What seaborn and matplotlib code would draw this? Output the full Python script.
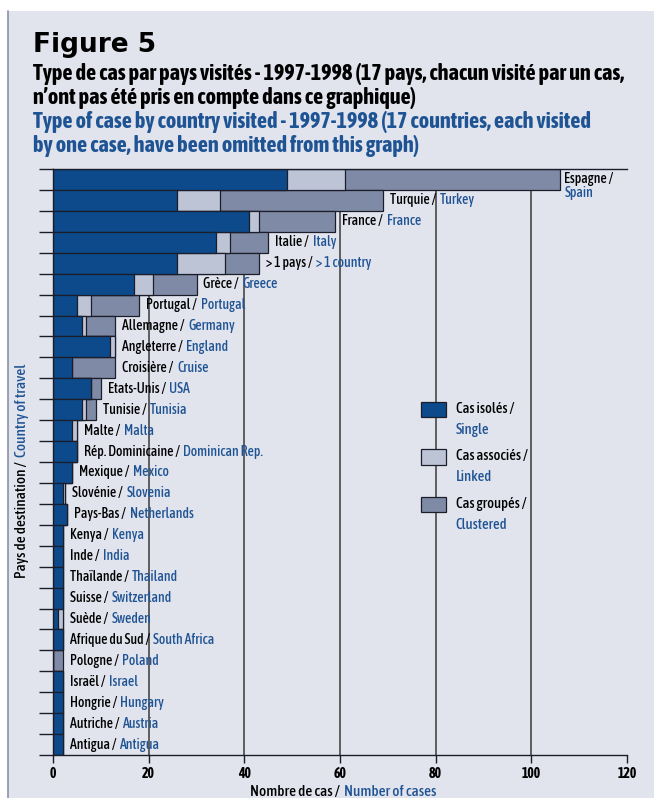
import numpy as np
import pandas as pd
import matplotlib.pyplot as plt
import seaborn as sns
from matplotlib.patches import Rectangle
from matplotlib.lines import Line2D
from matplotlib.offsetbox import (TextArea, HPacker, VPacker, DrawingArea,
                                  AnnotationBbox, AnchoredOffsetbox)

pays_fr = ['Espagne', 'Turquie', 'France', 'Italie', '> 1 pays', 'Grèce', 'Portugal',
           'Allemagne', 'Angleterre', 'Croisière', 'Etats-Unis', 'Tunisie', 'Malte',
           'Rép. Dominicaine', 'Mexique', 'Slovénie', 'Pays-Bas', 'Kenya', 'Inde',
           'Thaïlande', 'Suisse', 'Suède', 'Afrique du Sud', 'Pologne', 'Israël',
           'Hongrie', 'Autriche', 'Antigua']
pays_en = ['Spain', 'Turkey', 'France', 'Italy', '> 1 country', 'Greece', 'Portugal',
           'Germany', 'England', 'Cruise', 'USA', 'Tunisia', 'Malta',
           'Dominican Rep.', 'Mexico', 'Slovenia', 'Netherlands', 'Kenya', 'India',
           'Thailand', 'Switzerland', 'Sweden', 'South Africa', 'Poland', 'Israel',
           'Hungary', 'Austria', 'Antigua']
isoles = [49, 26, 41, 34, 26, 17, 5, 6, 12, 4, 8, 6, 4, 5, 4, 2, 3, 2, 2, 2, 2, 1, 2, 0, 2, 2, 2, 2]
associes = [12, 9, 2, 3, 10, 4, 3, 1, 1, 0, 0, 1, 1, 0, 0, 0.5, 0, 0, 0, 0, 0, 1, 0, 0, 0, 0, 0, 0]
groupes = [45, 34, 16, 8, 7, 9, 10, 6, 0, 9, 2, 2, 0, 0, 0, 0, 0, 0, 0, 0, 0, 0, 0, 2, 0, 0, 0, 0]

graduations = [0, 20, 40, 60, 80, 100, 120]

bleu_fonce = '#0d4a8b'
bleu_clair = '#bcc4d6'
bleu_gris = '#7f8ba6'
bleu_texte = '#1f5494'
fond = '#e1e3ed'
bord = '#1b1d2b'

sns.set_theme(style='white')
plt.rcParams['font.family'] = ['Asap Condensed', 'DejaVu Sans']
plt.rcParams['text.color'] = 'black'
plt.rcParams['xtick.color'] = 'black'
plt.rcParams['ytick.color'] = 'black'

df = pd.DataFrame({'pays': pays_fr, 'en': pays_en, 'isoles': isoles,
                   'associes': associes, 'groupes': groupes})
df['cumul'] = df['isoles'] + df['associes']
df['total'] = df['cumul'] + df['groupes']

fig = plt.figure(figsize=(6.54, 7.98), dpi=100)
fig.patch.set_facecolor('white')
fig.patches.append(Rectangle((8 / 654, 0), 1, 1 - 11 / 798, transform=fig.transFigure,
                             facecolor=fond, edgecolor='none', zorder=-10))
fig.add_artist(Line2D([8 / 654, 8 / 654], [0, 1 - 11 / 798], color='#8a92aa', lw=1.2))

ax = fig.add_axes([53 / 654, 1 - 755 / 798, 574 / 654, 586 / 798])
ax.patch.set_visible(False)

for v in graduations[1:-1]:
    ax.axvline(v, color='#3a3a3a', lw=1.1, zorder=0)

# barres empilées : total, puis isolés + associés, puis isolés
for col, couleur in [('total', bleu_gris), ('cumul', bleu_clair), ('isoles', bleu_fonce)]:
    sns.barplot(data=df, x=col, y='pays', orient='h', color=couleur, saturation=1,
                width=1, edgecolor=bord, linewidth=0.9, errorbar=None, ax=ax, zorder=2)

n = len(df)
ax.set_xlim(0, 120)
ax.set_ylim(n - 0.5, -0.5)
ax.set_xticks(graduations)
ax.set_yticks(np.arange(n + 1) - 0.5)
ax.set_yticklabels([])
ax.set_xlabel('')
ax.set_ylabel('')
ax.tick_params(axis='y', left=True, length=10, width=1, color=bord, direction='out')
ax.tick_params(axis='x', bottom=True, length=6, width=1, color=bord, direction='out',
               labelsize=10, pad=3)
for lab in ax.get_xticklabels():
    lab.set_fontweight('bold')
ax.spines['right'].set_visible(False)
for s in ['top', 'bottom', 'left']:
    ax.spines[s].set_color(bord)
    ax.spines[s].set_linewidth(1)

# étiquettes au bout des barres
for i, row in df.iterrows():
    fr = TextArea(row['pays'] + ' /', textprops=dict(color='black', fontsize=10, fontweight=500))
    en = TextArea(row['en'], textprops=dict(color=bleu_texte, fontsize=10, fontweight=500))
    if i == 0:
        box = VPacker(children=[fr, en], align='left', sep=0, pad=0)
        decal = (3, -5)
    else:
        box = HPacker(children=[fr, en], align='baseline', sep=2.5, pad=0)
        decal = (5, 0)
    ab = AnnotationBbox(box, (row['total'], i), xybox=decal, xycoords='data',
                        boxcoords='offset points', box_alignment=(0, 0.5),
                        frameon=False, pad=0, annotation_clip=False)
    ax.add_artist(ab)

# légende
entrees = [('Cas isolés /', 'Single', bleu_fonce),
           ('Cas associés /', 'Linked', bleu_clair),
           ('Cas groupés /', 'Clustered', bleu_gris)]
lignes = []
for fr, en, c in entrees:
    da = DrawingArea(18, 11, 0, 0)
    da.add_artist(Rectangle((0, 0), 18, 11, facecolor=c, edgecolor=bord, lw=0.9))
    txt = VPacker(children=[TextArea(fr, textprops=dict(color='black', fontsize=10.5, fontweight=500)),
                            TextArea(en, textprops=dict(color=bleu_texte, fontsize=10.5, fontweight=500))],
                  align='left', sep=5, pad=0)
    lignes.append(HPacker(children=[da, txt], align='top', sep=7, pad=0))
leg = VPacker(children=lignes, align='left', sep=9, pad=0)
ax.add_artist(AnchoredOffsetbox(loc='upper left', child=leg,
                                bbox_to_anchor=((421 - 53) / 574, 1 - (402 - 169) / 586),
                                bbox_transform=ax.transAxes, frameon=False, pad=0,
                                borderpad=0))

# titres
fig.text(33 / 654, 1 - 52 / 798, 'Figure 5', fontsize=19, fontweight='heavy',
         family='DejaVu Sans', color='black', va='baseline')
titres = [('Type de cas par pays visités - 1997-1998 (17 pays, chacun visité par un cas,', 'black', 80),
          ('n’ont pas été pris en compte dans ce graphique)', 'black', 104),
          ('Type of case by country visited - 1997-1998 (17 countries, each visited', bleu_texte, 128),
          ('by one case, have been omitted from this graph)', bleu_texte, 152)]
for t, c, y in titres:
    fig.text(33 / 654, 1 - y / 798, t, fontsize=16, fontweight='bold', color=c, va='baseline')

# titre de l'axe x
xlab = HPacker(children=[TextArea('Nombre de cas /', textprops=dict(color='black', fontsize=11, fontweight=500)),
                         TextArea('Number of cases', textprops=dict(color=bleu_texte, fontsize=11, fontweight=500))],
               align='baseline', sep=3, pad=0)
fig.add_artist(AnnotationBbox(xlab, (343 / 654, 1 - 785 / 798), xycoords='figure fraction',
                              box_alignment=(0.5, 1), frameon=False, pad=0))

# titre de l'axe y
t1 = fig.text(15 / 654, 1 - 578 / 798, 'Pays de destination /', rotation=90,
              ha='left', va='bottom', fontsize=11, fontweight=500)
ax.annotate('Country of travel', xy=(0, 1), xycoords=t1, xytext=(0, 3),
            textcoords='offset points', rotation=90, ha='left', va='bottom',
            color=bleu_texte, fontsize=11, fontweight=500, annotation_clip=False)

fig.savefig('out.png', dpi=100)
